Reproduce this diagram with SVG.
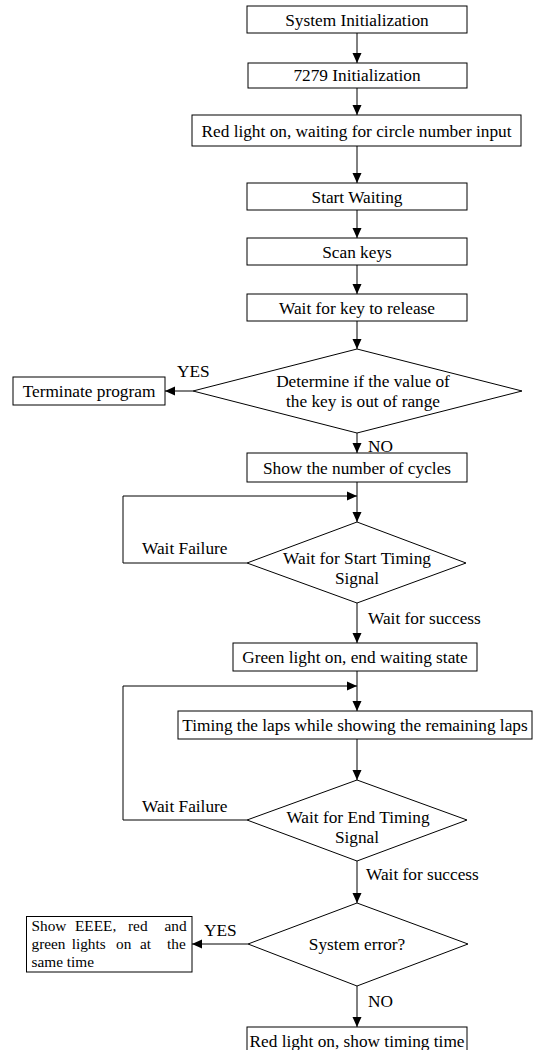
<svg xmlns="http://www.w3.org/2000/svg" width="533" height="1050" viewBox="0 0 533 1050">
<style>
  rect, polygon { fill: #fff; stroke: #000; stroke-width: 1; }
  rect.bg { stroke: none; }
  .c { fill: none; stroke: #000; stroke-width: 1; }
  text { font-family: "Liberation Serif", "Times New Roman", serif; font-size: 17.3px; fill: #000; }
  .m { text-anchor: middle; }
  .s { font-size: 15.3px; }
</style>
<defs>
  <marker id="a" markerUnits="userSpaceOnUse" markerWidth="10" markerHeight="10" refX="10" refY="5" orient="auto">
    <path d="M0,0.5 L10,5 L0,9.5 z" fill="#000"/>
  </marker>
</defs>
<rect class="bg" x="0" y="0" width="533" height="1050"/>
<g id="connectors">
  <line class="c" x1="357" y1="33" x2="357" y2="63" marker-end="url(#a)"/>
  <line class="c" x1="357" y1="88" x2="357" y2="115" marker-end="url(#a)"/>
  <line class="c" x1="357" y1="146" x2="357" y2="183" marker-end="url(#a)"/>
  <line class="c" x1="357" y1="210" x2="357" y2="238" marker-end="url(#a)"/>
  <line class="c" x1="357" y1="265" x2="357" y2="294" marker-end="url(#a)"/>
  <line class="c" x1="357" y1="321" x2="357" y2="349" marker-end="url(#a)"/>
  <line class="c" x1="193" y1="391" x2="165" y2="391" marker-end="url(#a)"/>
  <line class="c" x1="357" y1="433" x2="357" y2="453" marker-end="url(#a)"/>
  <line class="c" x1="357" y1="482" x2="357" y2="522" marker-end="url(#a)"/>
  <polyline class="c" points="247,563 123,563 123,496 357,496" marker-end="url(#a)"/>
  <line class="c" x1="357" y1="603" x2="357" y2="643" marker-end="url(#a)"/>
  <line class="c" x1="357" y1="671" x2="357" y2="711" marker-end="url(#a)"/>
  <polyline class="c" points="247,820 123,820 123,686 357,686" marker-end="url(#a)"/>
  <line class="c" x1="357" y1="739" x2="357" y2="780" marker-end="url(#a)"/>
  <line class="c" x1="357" y1="861" x2="357" y2="903" marker-end="url(#a)"/>
  <line class="c" x1="248" y1="944" x2="192" y2="944" marker-end="url(#a)"/>
  <line class="c" x1="357" y1="986" x2="357" y2="1027" marker-end="url(#a)"/>
  <text x="177" y="377">YES</text>
  <text x="368" y="452">NO</text>
  <text x="142" y="554">Wait Failure</text>
  <text x="368" y="624">Wait for success</text>
  <text x="142" y="812">Wait Failure</text>
  <text x="366" y="880">Wait for success</text>
  <text x="204" y="936">YES</text>
  <text x="368" y="1007">NO</text>
</g>
<g id="n1"><rect x="247" y="6" width="220" height="27"/><text class="m" x="357" y="25.5">System Initialization</text></g>
<g id="n2"><rect x="248" y="63" width="219" height="25"/><text class="m" x="357" y="81">7279 Initialization</text></g>
<g id="n3"><rect x="192" y="115" width="329" height="31"/><text class="m" x="356.5" y="137">Red light on, waiting for circle number input</text></g>
<g id="n4"><rect x="247" y="183" width="220" height="27"/><text class="m" x="357" y="203">Start Waiting</text></g>
<g id="n5"><rect x="247" y="238" width="220" height="27"/><text class="m" x="357" y="258">Scan keys</text></g>
<g id="n6"><rect x="247" y="294" width="220" height="27"/><text class="m" x="357" y="314">Wait for key to release</text></g>
<g id="d1"><polygon points="357,349 522,391 357,433 193,391"/><text class="m" x="363" y="386.5">Determine if the value of</text><text class="m" x="363" y="407">the key is out of range</text></g>
<g id="n7"><rect x="13" y="377" width="152" height="28"/><text class="m" x="89" y="397">Terminate program</text></g>
<g id="n8"><rect x="247" y="453" width="220" height="29"/><text class="m" x="357" y="473.5">Show the number of cycles</text></g>
<g id="d2"><polygon points="357,522 466,563 357,603 247,563"/><text class="m" x="357" y="564">Wait for Start Timing</text><text class="m" x="357" y="584">Signal</text></g>
<g id="n9"><rect x="233" y="643" width="244" height="28"/><text class="m" x="355" y="663">Green light on, end waiting state</text></g>
<g id="n10"><rect x="178" y="711" width="354" height="28"/><text class="m" x="355" y="731">Timing the laps while showing the remaining laps</text></g>
<g id="d3"><polygon points="357,780 467,820 357,861 247,820"/><text class="m" x="358" y="823">Wait for End Timing</text><text class="m" x="357" y="843">Signal</text></g>
<g id="d4"><polygon points="357,903 468,944 357,986 248,944"/><text class="m" x="357" y="950">System error?</text></g>
<g id="n11"><rect x="26.5" y="916.5" width="165.5" height="55.5"/>
  <text class="s" y="930.5"><tspan x="31.5">Show</tspan><tspan x="75">EEEE,</tspan><tspan x="128">red</tspan><tspan x="164.5">and</tspan></text>
  <text class="s" y="949.3"><tspan x="31.5">green</tspan><tspan x="71.7">lights</tspan><tspan x="116">on</tspan><tspan x="140">at</tspan><tspan x="167">the</tspan></text>
  <text class="s" x="31.5" y="967">same time</text>
</g>
<g id="n12"><rect x="247" y="1027" width="220" height="30"/><text class="m" x="357" y="1047">Red light on, show timing time</text></g>
</svg>
